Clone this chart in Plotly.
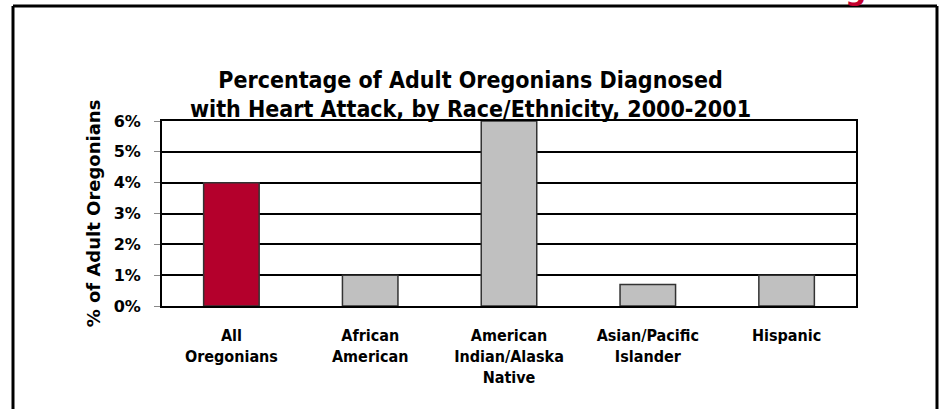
import plotly.graph_objects as go

# Heart attack prevalence among adult Oregonians, 2000-2001
categories = [
    "All<br>Oregonians",
    "African<br>American",
    "American<br>Indian/Alaska<br>Native",
    "Asian/Pacific<br>Islander",
    "Hispanic",
]
percent_diagnosed = [4.0, 1.0, 6.0, 0.7, 1.0]
bar_colors = ["#b4002c", "#c0c0c0", "#c0c0c0", "#c0c0c0", "#c0c0c0"]
y_ticks = [0, 1, 2, 3, 4, 5, 6]

NARROW = "Liberation Sans Narrow, Arial Narrow, DejaVu Sans Condensed, sans-serif"
WIDE = "DejaVu Sans, Verdana, sans-serif"

fig = go.Figure(
    go.Bar(
        x=categories,
        y=percent_diagnosed,
        width=0.4,
        marker=dict(color=bar_colors, line=dict(color="#333333", width=1.5)),
        hoverinfo="skip",
    )
)

fig.update_layout(
    width=941,
    height=409,
    margin=dict(l=162, r=85, t=121, b=103),
    paper_bgcolor="white",
    plot_bgcolor="white",
    showlegend=False,
    title=dict(
        text="Percentage of Adult Oregonians Diagnosed<br>with Heart Attack, by Race/Ethnicity, 2000-2001",
        x=0.5,
        xanchor="center",
        y=0.786,
        yanchor="middle",
        font=dict(family=NARROW, size=23, color="black", weight="bold"),
    ),
)

fig.update_xaxes(
    showgrid=False,
    showline=True,
    linecolor="black",
    linewidth=2,
    mirror=True,
    ticks="",
    ticklabelstandoff=14,
    tickfont=dict(family=NARROW, size=16, color="black", weight="bold"),
)

fig.update_yaxes(
    range=[0, 6],
    tickvals=y_ticks,
    ticktext=[f"{v}%" for v in y_ticks],
    showgrid=True,
    gridcolor="black",
    gridwidth=2,
    zeroline=False,
    showline=True,
    linecolor="black",
    linewidth=2,
    mirror=True,
    ticks="outside",
    ticklen=6,
    tickcolor="#888888",
    tickwidth=1,
    ticklabelstandoff=10,
    tickfont=dict(family=WIDE, size=16, color="black", weight="bold"),
    title=dict(
        text="% of Adult Oregonians",
        standoff=8,
        font=dict(family=WIDE, size=18, color="black", weight="bold"),
    ),
)

# Slide frame around the chart
frame = dict(color="black", width=3)
fig.add_shape(type="line", xref="paper", yref="paper",
              x0=-0.2147, x1=-0.2147, y0=1.622, y1=-0.6, line=frame)
fig.add_shape(type="line", xref="paper", yref="paper",
              x0=-0.2147, x1=1.1167, y0=1.622, y1=1.622, line=frame)
fig.add_shape(type="line", xref="paper", yref="paper",
              x0=1.1167, x1=1.1167, y0=1.622, y1=-0.6, line=frame)

# Tail of the red slide heading above the frame
fig.add_annotation(
    text="g", xref="paper", yref="paper",
    x=0.9986, y=1.606, xanchor="center", yanchor="bottom",
    showarrow=False,
    font=dict(family=WIDE, size=30, color="#c4002e", weight="bold"),
)

fig.write_html("out.html")
